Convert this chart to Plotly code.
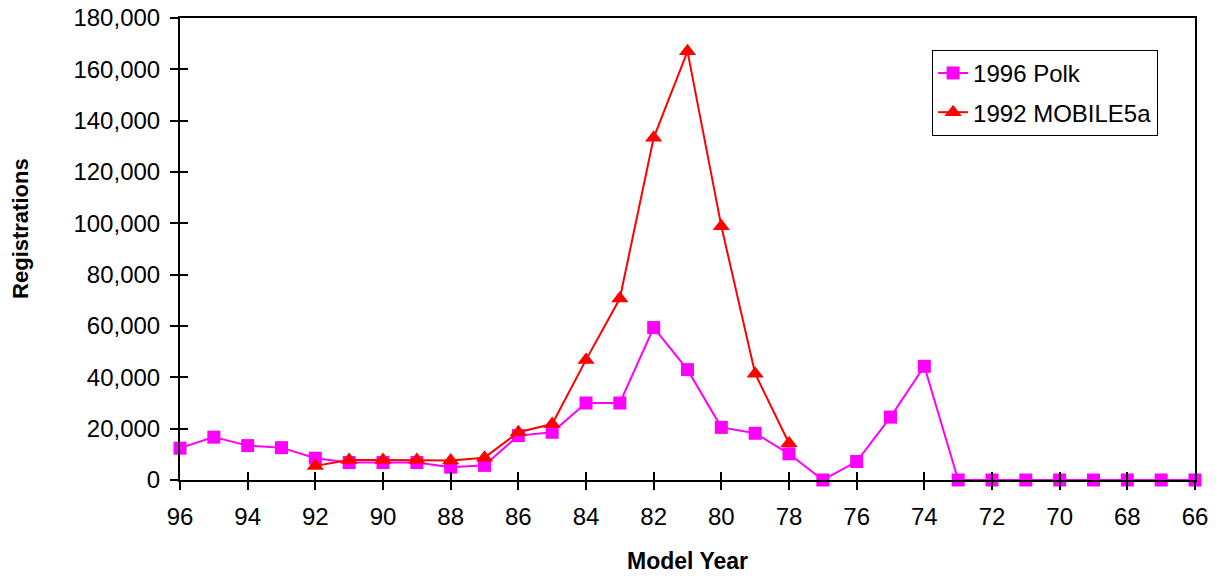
import plotly.graph_objects as go

years = list(range(96, 65, -1))
polk = [12400, 16700, 13400, 12600, 8500, 6800, 6800, 6800, 5000, 5700,
        17300, 18600, 30000, 30000, 59400, 43000, 20500, 18200, 10200, 0,
        7200, 24500, 44300, 0, 0, 0, 0, 0, 0, 0, 0]
mobile_years = list(range(92, 77, -1))
mobile = [5500, 7800, 7800, 7800, 7600, 8700, 18600, 21800, 46800, 70700,
          133300, 167000, 98900, 41400, 14300]
x_ticks = list(range(96, 65, -2))
y_ticks = list(range(0, 180001, 20000))

FONT = "Arial, Liberation Sans, sans-serif"

fig = go.Figure()
fig.add_trace(go.Scatter(
    x=years, y=polk, name="1996 Polk", mode="lines+markers",
    line=dict(color="#FF00FF", width=2),
    marker=dict(symbol="square", size=13, color="#FF00FF"),
    cliponaxis=False, legendgroup="a"))
fig.add_trace(go.Scatter(
    x=mobile_years, y=mobile, name="1992 MOBILE5a", mode="lines+markers",
    line=dict(color="#FF0000", width=2),
    marker=dict(symbol="triangle-up", size=15, color="#FF0000"),
    cliponaxis=False, legendgroup="b"))
# empty trace to anchor the overlay axes (inner half of crossing ticks)
fig.add_trace(go.Scatter(x=[], y=[], xaxis="x2", yaxis="y2", showlegend=False))

axis_common = dict(showgrid=False, zeroline=False, linecolor="black",
                   tickcolor="black", tickwidth=1.5, ticklen=8,
                   automargin=False)

fig.update_layout(
    width=1217, height=576,
    margin=dict(l=180, r=22, t=18, b=96),
    paper_bgcolor="white", plot_bgcolor="white",
    font=dict(family=FONT, size=24, color="black"),
    showlegend=True,
    legend=dict(x=0.741, y=0.931, xanchor="left", yanchor="top",
                bordercolor="black", borderwidth=1, bgcolor="white",
                font=dict(size=24), tracegroupgap=5, traceorder="grouped"),
    xaxis=dict(range=[96, 66], tickmode="array", tickvals=x_ticks,
               ticktext=[str(v) for v in x_ticks], ticks="outside",
               showline=True, linewidth=2, mirror=True,
               ticklabelstandoff=6, ticklabeloverflow="allow",
               tickfont=dict(size=24), **axis_common),
    yaxis=dict(range=[0, 180000], tickmode="array", tickvals=y_ticks,
               tickformat=",", ticks="outside", showline=True, linewidth=2,
               mirror=True, ticklabelstandoff=5, ticklabeloverflow="allow",
               tickfont=dict(size=24), **axis_common),
    xaxis2=dict(range=[96, 66], overlaying="x", tickmode="array",
                tickvals=x_ticks, ticks="inside", showticklabels=False,
                showline=False, **axis_common),
    yaxis2=dict(range=[0, 180000], overlaying="y", tickmode="array",
                tickvals=y_ticks, ticks="inside", showticklabels=False,
                showline=False, **axis_common),
    annotations=[
        dict(text="<b>Model Year</b>", xref="paper", yref="paper",
             x=0.5, y=-0.1753, xanchor="center", yanchor="middle",
             showarrow=False, font=dict(size=23)),
        dict(text="<b>Registrations</b>", xref="paper", yref="paper",
             x=-0.1567, y=0.5455, xanchor="center", yanchor="middle",
             textangle=-90, showarrow=False, font=dict(size=22)),
    ],
)

fig.write_html("out.html",
               config={"displayModeBar": False},
               post_script="document.body.style.margin='0';")
